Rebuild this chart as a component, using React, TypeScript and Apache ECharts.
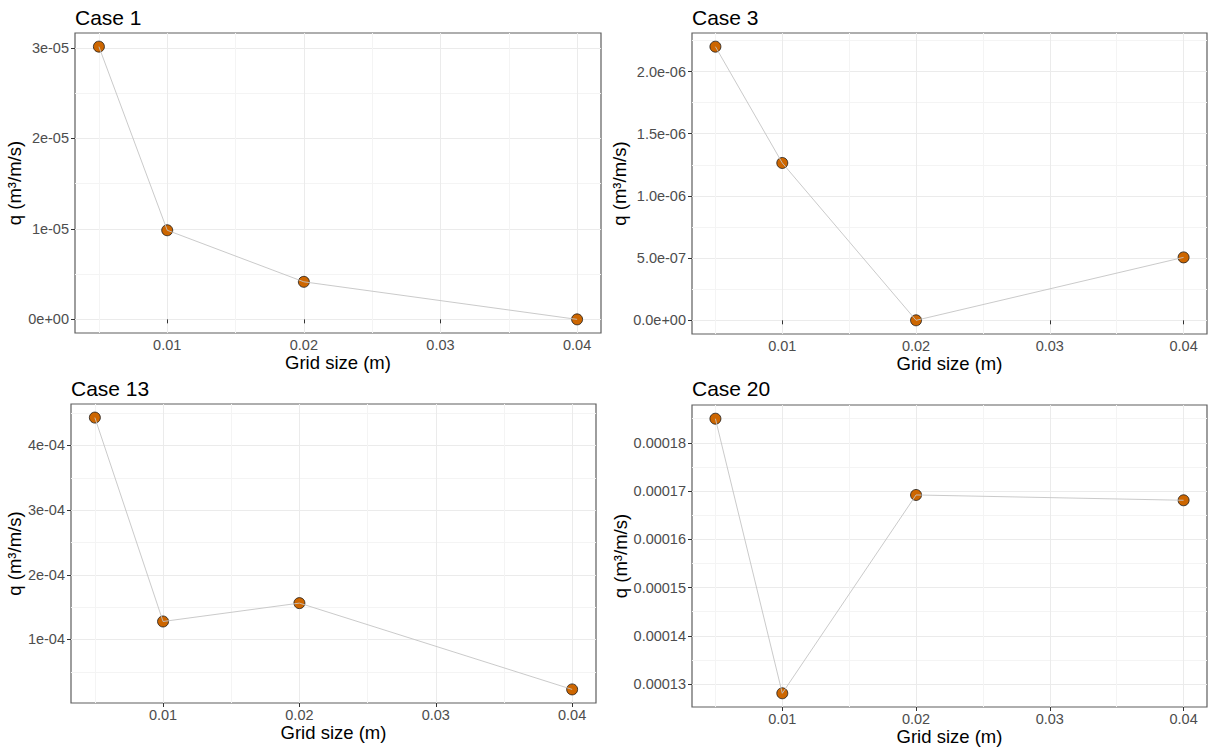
import React, { useEffect, useRef } from "react";
import * as echarts from "echarts";

// ---- data ----
const gridSizes = [0.005, 0.01, 0.02, 0.04];

const case1Values = [3.015e-5, 9.85e-6, 4.15e-6, 0];
const case3Values = [2.2e-6, 1.265e-6, 0, 5.06e-7];
const case13Values = [4.43e-4, 1.278e-4, 1.562e-4, 2.28e-5];
const case20Values = [1.85e-4, 1.281e-4, 1.692e-4, 1.681e-4];

const caseTitles = ["Case 1", "Case 3", "Case 13", "Case 20"];

const xTickValues = [0.01, 0.02, 0.03, 0.04];
const xTickLabels = ["0.01", "0.02", "0.03", "0.04"];

const case1TickValues = [0, 1e-5, 2e-5, 3e-5];
const case1TickLabels = ["0e+00", "1e-05", "2e-05", "3e-05"];
const case3TickValues = [0, 5e-7, 1e-6, 1.5e-6, 2e-6];
const case3TickLabels = ["0.0e+00", "5.0e-07", "1.0e-06", "1.5e-06", "2.0e-06"];
const case13TickValues = [1e-4, 2e-4, 3e-4, 4e-4];
const case13TickLabels = ["1e-04", "2e-04", "3e-04", "4e-04"];
const case20TickValues = [1.3e-4, 1.4e-4, 1.5e-4, 1.6e-4, 1.7e-4, 1.8e-4];
const case20TickLabels = ["0.00013", "0.00014", "0.00015", "0.00016", "0.00017", "0.00018"];

const xAxisTitle = "Grid size (m)";
const yAxisTitle = "q (m³/m/s)";

// ---- layout / style ----
const FONT = '"Liberation Sans", Arial, Helvetica, sans-serif';

const panels = [
  { values: case1Values, ticks: case1TickValues, labels: case1TickLabels, ySplit: 3,
    left: 75, top: 33, width: 526, height: 300, nameGap: 46, titleY: 17.8 },
  { values: case3Values, ticks: case3TickValues, labels: case3TickLabels, ySplit: 5,
    left: 692, top: 33, width: 515, height: 301, nameGap: 61, titleY: 17.8 },
  { values: case13Values, ticks: case13TickValues, labels: case13TickLabels, ySplit: 4,
    left: 71, top: 404, width: 525, height: 299, nameGap: 43, titleY: 388.6 },
  { values: case20Values, ticks: case20TickValues, labels: case20TickLabels, ySplit: 5,
    left: 692, top: 405, width: 515, height: 302, nameGap: 61, titleY: 388.8 },
];

function expandRange(vals: number[]) {
  const lo = Math.min(...vals);
  const hi = Math.max(...vals);
  const pad = (hi - lo) * 0.05;
  return [lo - pad, hi + pad];
}

function lookup(values: number[], labels: string[]) {
  return (v: number) => {
    const scale = Math.max(...values.map((x) => Math.abs(x))) || 1;
    for (let i = 0; i < values.length; i++) {
      if (Math.abs(values[i] - v) < scale * 1e-6) return labels[i];
    }
    return "";
  };
}

export default function App() {
  const ref = useRef<HTMLDivElement>(null);

  useEffect(() => {
    document.body.style.margin = "0";
    if (!ref.current) return;
    const chart = echarts.init(ref.current, undefined, { renderer: "svg" });

    const [xMin, xMax] = expandRange(gridSizes);

    const grids: any[] = [];
    const xAxes: any[] = [];
    const yAxes: any[] = [];
    const series: any[] = [];
    const graphics: any[] = [];

    panels.forEach((p, i) => {
      const [yMin, yMax] = expandRange(p.values);
      grids.push({
        left: p.left,
        top: p.top,
        width: p.width,
        height: p.height,
        containLabel: false,
        outerBoundsMode: "none",
        show: true,
        borderColor: "#5e5e5e",
        borderWidth: 1.2,
        backgroundColor: "#ffffff",
      });
      xAxes.push({
        type: "value",
        gridIndex: i,
        min: xMin,
        max: xMax,
        splitNumber: 5,
        axisLine: { show: false },
        axisTick: {
          show: true,
          length: 4,
          customValues: xTickValues,
          lineStyle: { color: "#333333", width: 1 },
        },
        axisLabel: {
          customValues: xTickValues,
          formatter: lookup(xTickValues, xTickLabels),
          margin: 4,
          color: "#4d4d4d",
          fontSize: 14.5,
          fontFamily: FONT,
        },
        splitLine: { show: true, lineStyle: { color: "#ebebeb", width: 1 } },
        minorTick: { show: false, splitNumber: 2 },
        minorSplitLine: { show: true, lineStyle: { color: "#f4f4f4", width: 1 } },
        name: xAxisTitle,
        nameLocation: "middle",
        nameGap: 20,
        nameTextStyle: { color: "#000000", fontSize: 18.5, fontFamily: FONT },
      });
      yAxes.push({
        type: "value",
        gridIndex: i,
        min: yMin,
        max: yMax,
        splitNumber: p.ySplit,
        axisLine: { show: false },
        axisTick: {
          show: true,
          length: 4,
          customValues: p.ticks,
          lineStyle: { color: "#333333", width: 1 },
        },
        axisLabel: {
          customValues: p.ticks,
          formatter: lookup(p.ticks, p.labels),
          margin: 6,
          color: "#4d4d4d",
          fontSize: 14.5,
          fontFamily: FONT,
        },
        splitLine: { show: true, lineStyle: { color: "#ebebeb", width: 1 } },
        minorTick: { show: false, splitNumber: 2 },
        minorSplitLine: { show: true, lineStyle: { color: "#f4f4f4", width: 1 } },
        name: yAxisTitle,
        nameLocation: "middle",
        nameGap: p.nameGap,
        nameTextStyle: { color: "#000000", fontSize: 18.5, fontFamily: FONT },
      });
      const pts = gridSizes.map((x, k) => [x, p.values[k]]);
      series.push({
        type: "scatter",
        xAxisIndex: i,
        yAxisIndex: i,
        data: pts,
        symbol: "circle",
        symbolSize: 11,
        itemStyle: { color: "#cd6600", borderColor: "#1a1a1a", borderWidth: 0.8, opacity: 1 },
        z: 2,
        silent: true,
      });
      series.push({
        type: "line",
        xAxisIndex: i,
        yAxisIndex: i,
        data: pts,
        showSymbol: false,
        lineStyle: { color: "#c4c4c4", width: 0.9 },
        z: 3,
        silent: true,
      });
      graphics.push({
        type: "text",
        x: p.left,
        y: p.titleY,
        style: {
          text: caseTitles[i],
          fill: "#000000",
          fontSize: 21,
          fontFamily: FONT,
          align: "left",
          verticalAlign: "middle",
        },
      });
    });

    chart.setOption({
      animation: false,
      backgroundColor: "#ffffff",
      grid: grids,
      xAxis: xAxes,
      yAxis: yAxes,
      series,
      graphic: graphics,
    });

    return () => chart.dispose();
  }, []);

  return <div ref={ref} style={{ width: 1209, height: 751 }} />;
}
